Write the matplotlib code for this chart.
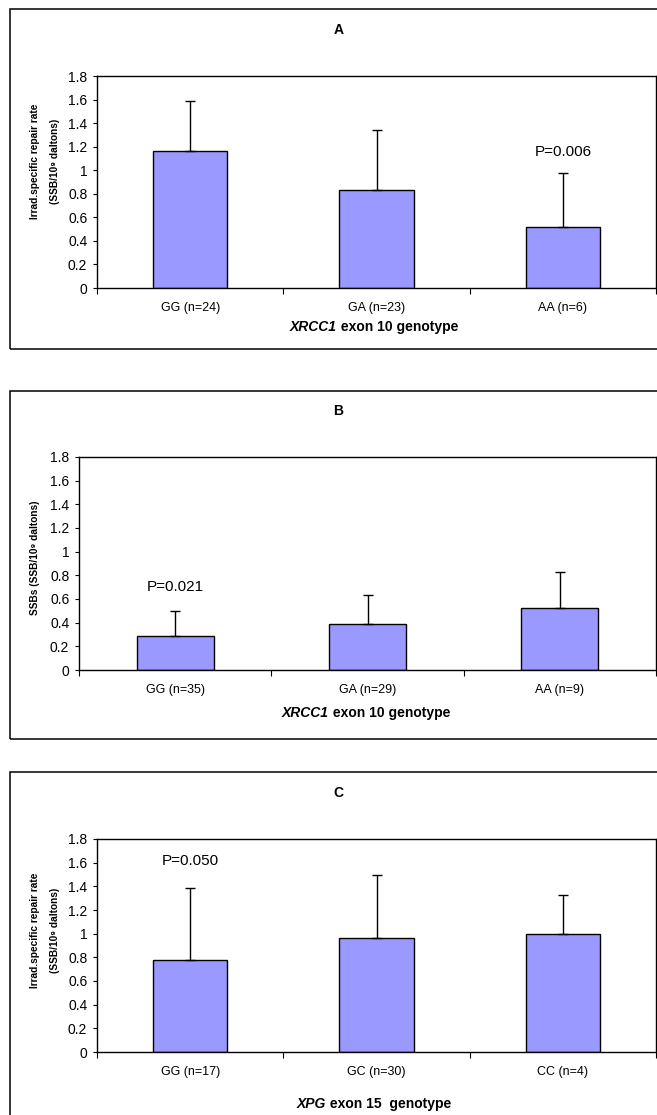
import matplotlib
matplotlib.use('Agg')
import matplotlib.pyplot as plt
from matplotlib.patches import Rectangle
from matplotlib.ticker import FormatStrFormatter, FixedLocator

plt.rcParams['font.family'] = ['Liberation Sans', 'DejaVu Sans']

# --- data ---
labels_a = ['GG (n=24)', 'GA (n=23)', 'AA (n=6)']
means_a = [1.16, 0.83, 0.52]
sd_a = [0.43, 0.51, 0.46]

labels_b = ['GG (n=35)', 'GA (n=29)', 'AA (n=9)']
means_b = [0.29, 0.39, 0.52]
sd_b = [0.21, 0.24, 0.31]

labels_c = ['GG (n=17)', 'GC (n=30)', 'CC (n=4)']
means_c = [0.78, 0.96, 1.00]
sd_c = [0.61, 0.54, 0.33]

W, H = 657, 1115
BAR_COLOR = '#9999FF'

fig = plt.figure(figsize=(W / 100, H / 100), dpi=100)


def fx(px):
    return px / W


def fy(py):
    return 1 - py / H


def panel(box, axpos, labels, means, sds, letter, title_y, ylab_lines, ylab_x, ylab_y,
          gene, rest, xl_x, xl_y, ptext, p_x, p_y):
    # outer frame (runs off the right edge like the original scan)
    x0, y0, y1 = box
    fig.patches.append(Rectangle((fx(x0), fy(y1)), fx(720 - x0), (y1 - y0) / H,
                                 transform=fig.transFigure, fill=False,
                                 edgecolor='black', linewidth=1.1))

    left, top, right, bottom = axpos
    ax = fig.add_axes([fx(left), fy(bottom), (right - left) / W, (bottom - top) / H])
    pos = list(range(len(means)))
    ax.bar(pos, means, width=0.4, color=BAR_COLOR, edgecolor='black', linewidth=1.0, zorder=2)
    # only the upper half of the error bar, as in Excel
    ax.errorbar(pos, means, yerr=[[0] * len(sds), sds], fmt='none', ecolor='black',
                elinewidth=1.0, capsize=3.6, capthick=1.0, zorder=3)

    ax.set_xlim(-0.5, len(means) - 0.5)
    ax.set_ylim(0, 1.8)
    ax.set_yticks([0, 0.2, 0.4, 0.6, 0.8, 1.0, 1.2, 1.4, 1.6, 1.8])
    ax.yaxis.set_major_formatter(FormatStrFormatter('%g'))
    ax.tick_params(axis='y', direction='out', length=3, width=0.8, labelsize=10, pad=4)

    # ticks between categories, labels in the middle
    ax.xaxis.set_major_locator(FixedLocator([i - 0.5 for i in range(len(means) + 1)]))
    ax.xaxis.set_minor_locator(FixedLocator(pos))
    ax.set_xticklabels([])
    ax.set_xticklabels(labels, minor=True)
    ax.tick_params(axis='x', which='major', direction='out', length=4, width=0.8)
    ax.tick_params(axis='x', which='minor', length=0, labelsize=9, pad=10)

    for sp in ax.spines.values():
        sp.set_linewidth(1.0)

    ax.text(p_x, p_y, ptext, ha='center', va='center', fontsize=11)

    fig.text(fx(338.5), fy(title_y), letter, ha='center', va='center',
             fontsize=10, fontweight='bold')

    for line, lx in zip(ylab_lines, ylab_x):
        fig.text(fx(lx), fy(ylab_y), line, rotation=90, ha='center', va='center',
                 fontsize=7.3, fontweight='bold')

    # gene name in bold italic, rest of the label in bold right after it
    t1 = fig.text(fx(xl_x), fy(xl_y), gene, ha='left', va='center', fontsize=10,
                  fontweight='bold', fontstyle='italic')
    ax.annotate(rest, xy=(1, 0.5), xycoords=t1, ha='left', va='center',
                fontsize=10, fontweight='bold', annotation_clip=False)
    return ax


panel((10, 9, 349), (97, 76, 656, 288), labels_a, means_a, sd_a, 'A', 30,
      ['Irrad.specific repair rate', '(SSB/10\u2079 daltons)'], [35, 55], 161,
      'XRCC1', ' exon 10 genotype', 290, 327, 'P=0.006', 2, 1.157)
panel((10, 391, 739), (79, 457, 656, 670), labels_b, means_b, sd_b, 'B', 411,
      ['SSBs (SSB/10\u2079 daltons)'], [35], 558,
      'XRCC1', ' exon 10 genotype', 282, 713, 'P=0.021', 0, 0.70)
panel((10, 772, 1140), (97, 839, 656, 1052), labels_c, means_c, sd_c, 'C', 793,
      ['Irrad.specific repair rate', '(SSB/10\u2079 daltons)'], [35, 55], 930,
      'XPG', ' exon 15  genotype', 297, 1104, 'P=0.050', 0, 1.616)

fig.savefig('out.png', dpi=100)
